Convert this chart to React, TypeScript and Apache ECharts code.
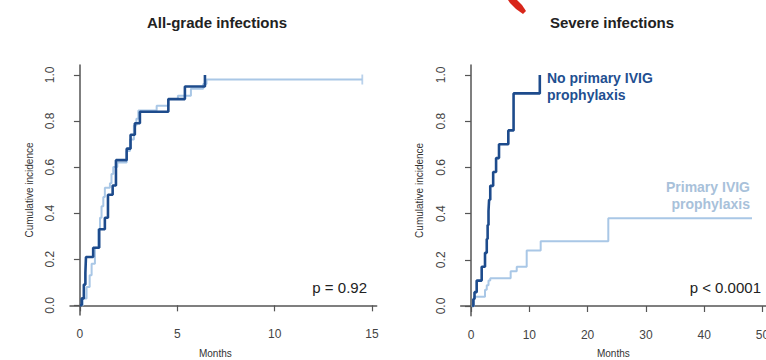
import React, { useEffect, useRef } from "react";
import * as echarts from "echarts";

// Left panel: All-grade infections (months, cumulative incidence)
const allGradeNoIvig: [number, number][] = [
  [0, 0], [0.09, 0.03], [0.2, 0.09], [0.28, 0.14], [0.31, 0.21], [0.68, 0.25],
  [0.99, 0.33], [1.28, 0.38], [1.44, 0.48], [1.68, 0.52], [1.85, 0.63], [2.4, 0.68],
  [2.6, 0.74], [2.82, 0.79], [3.08, 0.84], [4.54, 0.895], [5.39, 0.95], [6.42, 1.0],
];
const allGradeIvig: [number, number][] = [
  [0, 0], [0.15, 0.03], [0.34, 0.08], [0.5, 0.13], [0.6, 0.18], [0.77, 0.25],
  [0.94, 0.33], [1.03, 0.38], [1.11, 0.43], [1.2, 0.47], [1.28, 0.51], [1.54, 0.53],
  [1.62, 0.57], [1.71, 0.6], [1.92, 0.62], [2.4, 0.67], [2.57, 0.72], [2.77, 0.78],
  [2.9, 0.81], [3.0, 0.845], [3.94, 0.866], [4.54, 0.895], [5.03, 0.91], [5.7, 0.94],
  [6.33, 0.96], [6.5, 0.98], [14.5, 0.98],
];
const allGradeCensor: [number, number][] = [[14.5, 0.98]];

// Right panel: Severe infections
const severeNoIvig: [number, number][] = [
  [0.2, 0], [0.4, 0.03], [0.6, 0.06], [0.97, 0.11], [1.83, 0.17], [2.4, 0.23],
  [2.7, 0.29], [2.85, 0.35], [3.0, 0.41], [3.1, 0.46], [3.3, 0.52], [3.8, 0.58],
  [4.3, 0.64], [4.8, 0.7], [6.4, 0.76], [7.3, 0.92], [11.8, 1.0],
];
const severeIvig: [number, number][] = [
  [0.1, 0], [0.5, 0.04], [2.4, 0.07], [2.7, 0.09], [3.0, 0.11], [3.3, 0.12],
  [6.8, 0.15], [7.84, 0.17], [9.55, 0.24], [11.95, 0.28], [23.55, 0.38], [48.2, 0.38],
];

const leftXTicks = [0, 5, 10, 15];
const rightXTicks = [0, 10, 20, 30, 40, 50];
const yTicks = [0, 0.2, 0.4, 0.6, 0.8, 1.0];

const panelTitles = ["All-grade infections", "Severe infections"];
const xAxisTitle = "Months";
const yAxisTitle = "Cumulative incidence";
const pValues = ["p = 0.92", "p < 0.0001"];
const groupLabels = ["No primary IVIG\nprophylaxis", "Primary IVIG\nprophylaxis"];

const DARK = "#1d4b8c";
const LIGHT = "#a9c7e6";
const FONT = "'Liberation Sans', Arial, Helvetica, sans-serif";

function xAxisCfg(gridIndex: number, min: number, max: number, ticks: number[], namePad: number[]) {
  return {
    type: "value",
    gridIndex,
    min,
    max,
    name: xAxisTitle,
    nameLocation: "middle",
    nameGap: 33,
    nameTextStyle: { fontSize: 10, color: "#333", fontFamily: FONT, padding: namePad },
    axisLine: { show: true, lineStyle: { color: "#555", width: 1.5 } },
    axisTick: { show: true, customValues: ticks, length: 6, lineStyle: { color: "#555", width: 1.2 } },
    axisLabel: { customValues: ticks, margin: 13, fontSize: 12, color: "#444", fontFamily: FONT },
    splitLine: { show: false },
  };
}

function yAxisCfg(gridIndex: number) {
  return {
    type: "value",
    gridIndex,
    min: -0.042,
    max: 1.043,
    name: yAxisTitle,
    nameLocation: "middle",
    nameGap: 36,
    nameRotate: 90,
    nameTextStyle: { fontSize: 10, color: "#333", fontFamily: FONT },
    axisLine: { show: true, lineStyle: { color: "#555", width: 1.5 } },
    axisTick: { show: true, customValues: yTicks, length: 6, lineStyle: { color: "#555", width: 1.2 } },
    axisLabel: {
      customValues: yTicks,
      rotate: 90,
      margin: 14,
      fontSize: 12,
      color: "#444",
      fontFamily: FONT,
      formatter: (v: number) => v.toFixed(1),
    },
    splitLine: { show: false },
  };
}

function stepSeries(data: [number, number][], idx: number, color: string, width: number, z: number) {
  return {
    type: "line",
    xAxisIndex: idx,
    yAxisIndex: idx,
    step: "end",
    symbol: "none",
    data,
    z,
    lineStyle: { color, width },
  };
}

export default function App() {
  const ref = useRef<HTMLDivElement>(null);

  useEffect(() => {
    if (!ref.current) return;
    const chart = echarts.init(ref.current, undefined, { renderer: "svg" });
    chart.setOption({
      animation: false,
      backgroundColor: "#ffffff",
      grid: [
        { left: 70, top: 65, width: 306.7, height: 250, outerBoundsMode: "none", containLabel: false },
        { left: 460.7, top: 65, width: 305.3, height: 250.7, outerBoundsMode: "none", containLabel: false },
      ],
      xAxis: [
        xAxisCfg(0, -0.51, 15.24, leftXTicks, [0, 16, 0, 0]),
        xAxisCfg(1, -1.77, 50.6, rightXTicks, [0, 0, 0, 0]),
      ],
      yAxis: [yAxisCfg(0), yAxisCfg(1)],
      series: [
        stepSeries(allGradeIvig, 0, LIGHT, 2, 2),
        stepSeries(allGradeNoIvig, 0, DARK, 2.6, 3),
        {
          type: "scatter",
          xAxisIndex: 0,
          yAxisIndex: 0,
          data: allGradeCensor,
          symbol: "rect",
          symbolSize: [1.8, 10],
          itemStyle: { color: LIGHT },
          z: 2,
        },
        stepSeries(severeIvig, 1, LIGHT, 2, 2),
        stepSeries(severeNoIvig, 1, DARK, 2.6, 3),
      ],
      graphic: [
        {
          type: "text",
          x: 217,
          y: 22,
          style: {
            text: panelTitles[0],
            font: `bold 15px ${FONT}`,
            fill: "#222",
            textAlign: "center",
            textVerticalAlign: "middle",
          },
        },
        {
          type: "text",
          x: 612,
          y: 22,
          style: {
            text: panelTitles[1],
            font: `bold 15px ${FONT}`,
            fill: "#222",
            textAlign: "center",
            textVerticalAlign: "middle",
          },
        },
        {
          type: "text",
          x: 367,
          y: 287,
          style: {
            text: pValues[0],
            font: `15px ${FONT}`,
            fill: "#222",
            textAlign: "right",
            textVerticalAlign: "middle",
          },
        },
        {
          type: "text",
          x: 761,
          y: 287,
          style: {
            text: pValues[1],
            font: `15px ${FONT}`,
            fill: "#222",
            textAlign: "right",
            textVerticalAlign: "middle",
          },
        },
        {
          type: "text",
          x: 547,
          y: 69,
          style: {
            text: groupLabels[0],
            font: `bold 14px ${FONT}`,
            lineHeight: 17,
            fill: "#1f4f91",
            textAlign: "left",
            textVerticalAlign: "top",
          },
        },
        {
          type: "text",
          x: 750,
          y: 178,
          style: {
            text: groupLabels[1],
            font: `bold 14px ${FONT}`,
            lineHeight: 17,
            fill: "#a8c1da",
            textAlign: "right",
            textVerticalAlign: "top",
          },
        },
        {
          type: "polygon",
          shape: {
            points: [
              [508, 0], [517, 0], [522, 5], [526, 11], [523, 14], [516, 9], [510, 3],
            ],
          },
          style: { fill: "#d8261a" },
        },
      ],
    });
    return () => chart.dispose();
  }, []);

  return (
    <div
      ref={ref}
      style={{ position: "fixed", left: 0, top: 0, width: 766, height: 360, background: "#fff" }}
    />
  );
}
